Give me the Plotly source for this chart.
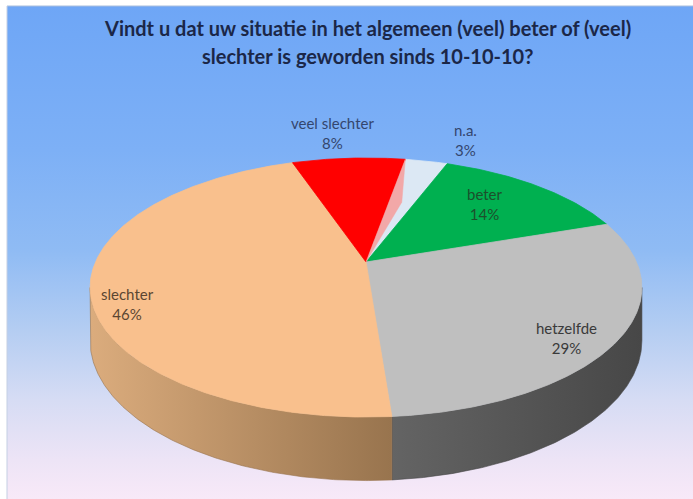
import numpy as np
import plotly.graph_objects as go

# ---------------- data ----------------
CATEGORIES = ["n.a.", "beter", "hetzelfde", "slechter", "veel slechter"]
VALUES = [3, 14, 29, 46, 8]
PERCENT_TEXT = ["3%", "14%", "29%", "46%", "8%"]
TITLE_LINES = ["Vindt u dat uw situatie in het algemeen (veel) beter of (veel)",
               "slechter is geworden sinds 10-10-10?"]

# ---------------- styles ----------------
TOP_COLORS = ["#DCE8F4", "#00B050", "#BFBFBF", "#F9C08D", "#FF0000"]
SIDE_COLORS = [("#B8C8DC", "#A8B8CC"), ("#008A3E", "#007034"), ("#646464", "#474747"),
               ("#DBAC7D", "#98744E"), ("#C00000", "#A00000")]
LABEL_COLORS = ["#34466E", "#1C4F2C", "#3A3A3A", "#5B4632", "#34466E"]
LABEL_POS = [(465, 140), (485, 204), (566, 338), (127, 304), (332, 133)]

W, H = 693, 499
# projection of the 3-D disc (pixel space)
CX, CY = 366.0, 262.0
R, S, K = 270.5, 124.5, 0.197
DEPTH = 51.0
ROT = 10.0


def proj(theta_deg, rho=1.0, drop=0.0):
    t = np.radians(theta_deg)
    u = rho * np.sin(t)
    v = rho * np.cos(t)
    f = 1.0 / (1.0 + K * v)
    return CX + R * u * f, CY - S * v * f + drop * f


fig = go.Figure()

# background panel with vertical gradient
fig.add_trace(go.Scatter(
    x=[7, W, W, 7, 7], y=[6, 6, H, H, 6], mode="lines", fill="toself",
    line=dict(width=0), hoverinfo="skip", showlegend=False,
    fillgradient=dict(type="vertical", start=6, stop=H,
                      colorscale=[[0, "#6EA6F6"], [0.292, "#7DB0F6"], [0.495, "#8FBBF4"],
                                  [0.657, "#B4CDF2"], [0.799, "#D6DCF4"], [0.921, "#EDE4F6"],
                                  [1, "#F8E9F8"]])))

total = float(sum(VALUES))
angles = [ROT]
for v in VALUES:
    angles.append(angles[-1] + 360.0 * v / total)

# silhouette limits of visible side wall
SIL = np.degrees(np.arccos(-K))
SIL_A, SIL_B = SIL, 360.0 - SIL

# side walls
for i, v in enumerate(VALUES):
    a, b = angles[i], angles[i + 1]
    a2, b2 = max(a, SIL_A), min(b, SIL_B)
    if b2 <= a2:
        continue
    th = np.linspace(a2, b2, int((b2 - a2) * 2) + 2)
    xt, yt = proj(th)
    xb, yb = proj(th, drop=DEPTH)
    xs = np.concatenate([xt, xb[::-1], xt[:1]])
    ys = np.concatenate([yt, yb[::-1], yt[:1]])
    c1, c2 = SIDE_COLORS[i]
    fig.add_trace(go.Scatter(
        x=xs, y=ys, mode="lines", fill="toself", line=dict(width=0.6, color=c2),
        hoverinfo="skip", showlegend=False,
        fillgradient=dict(type="horizontal", colorscale=[[0, c1], [1, c2]])))

# top faces
for i, v in enumerate(VALUES):
    a, b = angles[i], angles[i + 1]
    th = np.linspace(a, b, int((b - a) * 2) + 2)
    xa, ya = proj(th)
    xs = np.concatenate([[CX], xa, [CX]])
    ys = np.concatenate([[CY], ya, [CY]])
    fig.add_trace(go.Scatter(
        x=xs, y=ys, mode="lines", fill="toself", fillcolor=TOP_COLORS[i],
        line=dict(width=0.8, color=TOP_COLORS[i]), name=CATEGORIES[i],
        hoverinfo="name", showlegend=False))

# reddish inner face glimpse between "veel slechter" and "n.a."
a_end = angles[1]
a_start = angles[0]
x1, y1 = proj(a_start)
x2, y2 = proj(a_start + 0.5 * (a_end - a_start), rho=0.55)
fig.add_trace(go.Scatter(
    x=[CX, x1, x2, CX], y=[CY, y1, y2, CY], mode="lines", fill="toself",
    fillcolor="#F2A8A8", line=dict(width=0.5, color="#F2A8A8"),
    hoverinfo="skip", showlegend=False))

annotations = []
for i, (cat, pct) in enumerate(zip(CATEGORIES, PERCENT_TEXT)):
    x, y = LABEL_POS[i]
    annotations.append(dict(
        x=x, y=y, xref="x", yref="y", showarrow=False,
        text=f"{cat}<br>{pct}", align="center",
        font=dict(family="Lato, Open Sans, sans-serif", size=15, color=LABEL_COLORS[i])))

for j, (line, yy) in enumerate(zip(TITLE_LINES, [28, 56])):
    annotations.append(dict(
        x=367, y=yy, xref="x", yref="y", showarrow=False, text=f"<b>{line}</b>",
        font=dict(family="Lato, Open Sans, sans-serif", size=20, color="#1B2748")))

fig.update_layout(
    width=W, height=H, margin=dict(l=0, r=0, t=0, b=0),
    paper_bgcolor="white", plot_bgcolor="rgba(0,0,0,0)",
    xaxis=dict(range=[0, W], visible=False, fixedrange=True),
    yaxis=dict(range=[H, 0], visible=False, fixedrange=True),
    annotations=annotations,
    shapes=[dict(type="line", x0=7, y0=6, x1=W, y1=6, xref="x", yref="y",
                 line=dict(color="#A9BEDD", width=1)),
            dict(type="line", x0=7, y0=6, x1=7, y1=H, xref="x", yref="y",
                 line=dict(color="#C4CFE3", width=1))],
    showlegend=False,
)

fig.write_html("out.html", config={"displayModeBar": False},
               post_script="document.body.style.margin='0';document.body.style.overflow='hidden';")
